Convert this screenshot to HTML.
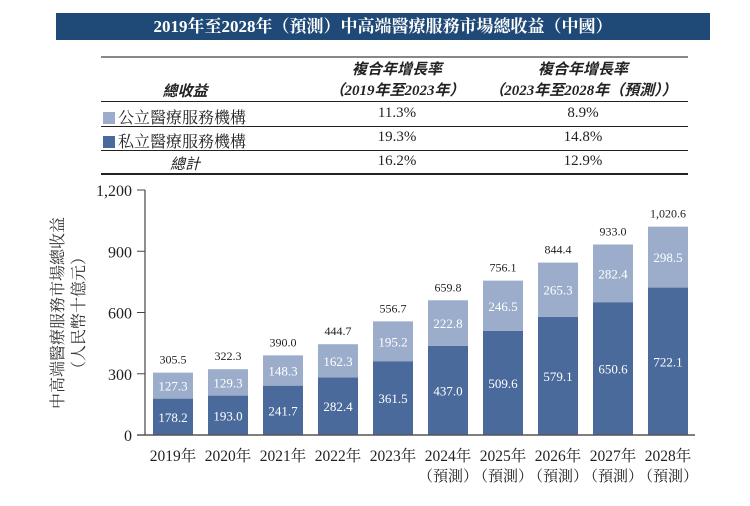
<!DOCTYPE html>
<html><head><meta charset="utf-8">
<style>
body{margin:0;width:750px;height:506px;background:#fff;position:relative;overflow:hidden;font-family:"Liberation Serif","Noto Serif CJK SC","Noto Sans CJK TC",serif;color:#222}
.abs{position:absolute}
#title{position:absolute;left:56px;top:13px;width:654px;height:27px;background:#1f4a78;color:#fff;font-weight:bold;font-size:17px;line-height:27px;text-align:center}
.hl{position:absolute;left:101px;width:587px;height:0;border-top:1.5px solid #222}
.c{position:absolute;text-align:center;font-size:15px}
.i{font-style:italic;font-weight:bold;font-family:"Liberation Serif","Noto Sans CJK TC",serif}
.sq{display:inline-block;width:12px;height:12px;vertical-align:-1px;margin-right:3px}
</style></head><body>
<div id="title">2019年至2028年（預測）中高端醫療服務市場總收益（中國）</div>
<div class="hl" style="top:56px;border-top:2px solid #888"></div>
<div class="hl" style="top:101px"></div>
<div class="hl" style="top:126px"></div>
<div class="hl" style="top:150px"></div>
<div class="hl" style="top:173px;border-top:2px solid #222"></div>
<div class="c i" style="left:130px;width:110px;top:80px">總收益</div>
<div class="c i" style="left:297px;width:200px;top:60px;line-height:21px">複合年增長率<br>（2019年至2023年）</div>
<div class="c i" style="left:473px;width:220px;top:60px;line-height:21px">複合年增長率<br>（2023年至2028年（預測））</div>
<div class="abs" style="left:103px;top:105px;font-size:16px"><span class="sq" style="background:#9badcb"></span>公立醫療服務機構</div>
<div class="abs" style="left:103px;top:129px;font-size:16px"><span class="sq" style="background:#4a6a9b"></span>私立醫療服務機構</div>
<div class="c i" style="left:130px;width:110px;top:153px;font-weight:normal">總計</div>
<div class="c" style="left:347px;width:100px;top:105px">11.3%</div>
<div class="c" style="left:533px;width:100px;top:105px">8.9%</div>
<div class="c" style="left:347px;width:100px;top:129px">19.3%</div>
<div class="c" style="left:533px;width:100px;top:129px">14.8%</div>
<div class="c" style="left:347px;width:100px;top:153px">16.2%</div>
<div class="c" style="left:533px;width:100px;top:153px">12.9%</div>

<svg id="chart" class="abs" style="left:0;top:0" width="750" height="506"></svg>
<script>
const categories=["2019年","2020年","2021年","2022年","2023年","2024年","2025年","2026年","2027年","2028年"];
const forecast=[false,false,false,false,false,true,true,true,true,true];
const privateVals=[178.2,193.0,241.7,282.4,361.5,437.0,509.6,579.1,650.6,722.1];
const publicVals=[127.3,129.3,148.3,162.3,195.2,222.8,246.5,265.3,282.4,298.5];
const totals=["305.5","322.3","390.0","444.7","556.7","659.8","756.1","844.4","933.0","1,020.6"];
const yTicks=[0,300,600,900,1200];
const yTickLabels=["0","300","600","900","1,200"];

const svg=document.getElementById('chart');
const NS='http://www.w3.org/2000/svg';
const y0=435,y1=190,yMax=1200,axisX=145,step=55,firstC=173,bw=40;
const y=v=>y0-(v/yMax)*(y0-y1);
const x=i=>firstC+i*step;
function mk(tag,attrs,txt){const e=document.createElementNS(NS,tag);for(const k in attrs)e.setAttribute(k,attrs[k]);if(txt!==undefined)e.textContent=txt;svg.appendChild(e);return e;}
const F='"Liberation Serif","Noto Serif CJK SC",serif';

yTicks.forEach((t,i)=>{
  const tk=mk('line',{x1:axisX-8,x2:axisX,y1:y(t),y2:y(t),stroke:'#444','stroke-width':1});
  
  
  const lb=mk('text',{x:axisX-13,y:y(t)+6,'text-anchor':'end','font-size':16,'font-family':F,fill:'#222'},yTickLabels[i]);
  
  
});

categories.forEach((c,i)=>{
  const cx=x(i),ys=y(privateVals[i]),yt=y(privateVals[i]+publicVals[i]);
  const b1=mk('rect',{x:cx-bw/2,y:ys,width:bw,height:y0-ys,fill:'#4a6a9b'});
  
  
  const b2=mk('rect',{x:cx-bw/2,y:yt,width:bw,height:ys-yt,fill:'#9badcb'});
  
  
  const l1=mk('text',{x:cx,y:(ys+y0)/2+5,'text-anchor':'middle','font-size':13,'font-family':F,fill:'#fff'},privateVals[i].toFixed(1));
  
  
  const l2=mk('text',{x:cx,y:(yt+ys)/2+5,'text-anchor':'middle','font-size':13,'font-family':F,fill:'#fff'},publicVals[i].toFixed(1));
  
  
  const l3=mk('text',{x:cx,y:yt-9,'text-anchor':'middle','font-size':12,'font-family':F,fill:'#222'},totals[i]);
  
  
  const cl=mk('text',{x:cx,y:461,'text-anchor':'middle','font-size':15.5,'font-family':F,fill:'#222'},c);
  
  
  if(forecast[i]){
    const fl=mk('text',{x:cx,y:481,'text-anchor':'middle','font-size':15,'font-family':F,fill:'#222'},'（預測）');
    
    
  }
});

const ya=mk('line',{x1:axisX,x2:axisX,y1:y1,y2:y0,stroke:'#444','stroke-width':1.2});


const xa=mk('line',{x1:axisX-8,x2:695,y1:y0,y2:y0,stroke:'#555','stroke-width':1.5});



const t1=mk('text',{x:0,y:0,'text-anchor':'middle','font-size':16,'font-family':F,fill:'#333',transform:'translate(63,313) rotate(-90)'},'中高端醫療服務市場總收益');


const t2=mk('text',{x:0,y:0,'text-anchor':'middle','font-size':16,'font-family':F,fill:'#333',transform:'translate(84,313) rotate(-90)'},'（人民幣十億元）');


</script>
</body></html>
